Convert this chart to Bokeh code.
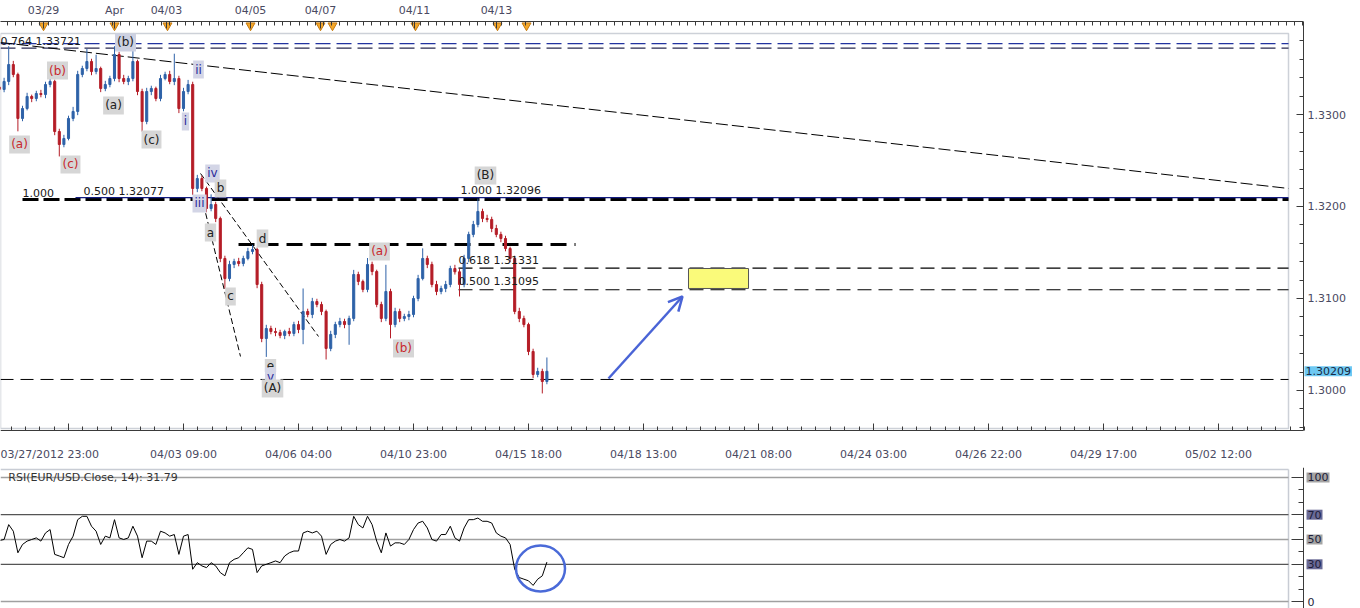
import numpy as np
from bokeh.plotting import figure
from bokeh.layouts import column
from bokeh.models import (ColumnDataSource, Range1d, LinearAxis, FixedTicker,
                          NumeralTickFormatter, Label, Arrow, OpenHead)
from bokeh.embed import file_html
from bokeh.resources import INLINE

FONT = "DejaVu Sans"

# ---------------- data ----------------
# x axis = bar slot index; bottom labels every 25 slots
bottom_tick_slots = [15, 40, 65, 90, 115, 140, 165, 190, 215, 240, 265]
bottom_tick_labels = ["03/27/2012 23:00", "04/03 09:00", "04/06 04:00", "04/10 23:00",
                      "04/15 18:00", "04/18 13:00", "04/21 08:00", "04/24 03:00",
                      "04/26 22:00", "04/29 17:00", "05/02 12:00"]
top_tick_slots = [9.57, 25.0, 36.30, 54.57, 69.78, 90.22, 108.04]
top_tick_labels = ["03/29", "Apr", "04/03", "04/05", "04/07", "04/11", "04/13"]
event_slots = [9.57, 25.0, 36.52, 54.57, 69.78, 72.39, 90.43, 108.26, 114.57]

first_open = 1.33300
close = [1.33272, 1.33359, 1.33543, 1.33435, 1.32957, 1.33065, 1.33196, 1.33174, 1.33228, 1.33217,
         1.33326, 1.33359, 1.32815, 1.32674, 1.32739, 1.32957, 1.33033, 1.33435, 1.33500, 1.33576,
         1.33467, 1.33500, 1.33283, 1.33326, 1.33391, 1.33652, 1.33391, 1.33359, 1.33391, 1.33576,
         1.33250, 1.32924, 1.33250, 1.33283, 1.33174, 1.33391, 1.33435, 1.33359, 1.33391, 1.33065,
         1.33250, 1.33326, 1.32196, 1.32304, 1.32196, 1.31978, 1.32022, 1.31870, 1.31435, 1.31217,
         1.31370, 1.31402, 1.31380, 1.31435, 1.31511, 1.31533, 1.31152, 1.30565, 1.30674, 1.30641,
         1.30630, 1.30598, 1.30641, 1.30620, 1.30717, 1.30663, 1.30859, 1.30826, 1.30967, 1.30935,
         1.30859, 1.30457, 1.30609, 1.30717, 1.30750, 1.30717, 1.30783, 1.31261, 1.31185, 1.31098,
         1.31370, 1.31293, 1.30935, 1.30783, 1.31076, 1.30717, 1.30859, 1.30783, 1.30804, 1.30826,
         1.31000, 1.31217, 1.31435, 1.31370, 1.31152, 1.31076, 1.31109, 1.31152, 1.31326, 1.31290,
         1.31152, 1.31435, 1.31696, 1.31804, 1.31946, 1.31870, 1.31859, 1.31761, 1.31696, 1.31652,
         1.31543, 1.31435, 1.30859, 1.30783, 1.30717, 1.30424, 1.30174, 1.30207, 1.30098, 1.30209]
# wick lengths in pips above / below the candle body
wick_up = [3, 4, 20, 4, 2, 3, 4, 2, 3, 4,
           3, 8, 2, 3, 4, 3, 5, 4, 3, 14,
           3, 15, 2, 4, 3, 9, 3, 4, 3, 14,
           2, 3, 4, 3, 2, 4, 3, 4, 27, 3,
           4, 5, 3, 4, 3, 2, 11, 3, 2, 3,
           4, 3, 4, 3, 4, 5, 2, 3, 4, 3,
           4, 3, 2, 4, 3, 4, 25, 3, 4, 3,
           3, 2, 4, 3, 4, 3, 3, 5, 3, 2,
           7, 3, 2, 3, 29, 3, 4, 3, 3, 4,
           3, 4, 11, 3, 3, 4, 3, 4, 3, 4,
           3, 4, 3, 4, 14, 3, 4, 3, 4, 3,
           3, 2, 3, 4, 3, 2, 3, 4, 3, 15]
wick_dn = [3, 3, 4, 3, 14, 3, 2, 4, 3, 3,
           4, 3, 4, 13, 3, 2, 3, 4, 3, 3,
           4, 3, 4, 3, 3, 3, 4, 3, 4, 3,
           4, 11, 3, 4, 3, 3, 2, 3, 4, 5,
           3, 3, 7, 4, 3, 4, 3, 4, 4, 11,
           3, 4, 3, 3, 2, 3, 4, 4, 20, 3,
           4, 3, 4, 3, 3, 4, 16, 3, 4, 3,
           4, 12, 3, 4, 3, 4, 22, 3, 4, 3,
           3, 4, 3, 4, 3, 15, 3, 4, 3, 4,
           3, 3, 2, 4, 3, 4, 3, 4, 3, 3,
           13, 3, 4, 3, 3, 4, 3, 4, 3, 4,
           3, 4, 3, 4, 3, 4, 4, 3, 13, 3]
rsi = [49.2, 50.0, 62.0, 56.7, 39.3, 46.0, 48.7, 50.0, 51.3, 48.7,
       55.3, 58.0, 38.0, 36.7, 35.3, 46.0, 52.7, 66.0, 68.7, 68.7,
       60.7, 56.7, 46.0, 52.7, 51.3, 66.0, 51.3, 50.0, 51.3, 60.7,
       52.7, 35.3, 48.7, 48.7, 46.0, 56.7, 55.3, 52.7, 54.0, 38.0,
       52.7, 54.0, 26.0, 31.3, 28.7, 27.3, 31.3, 28.7, 23.3, 20.7,
       31.3, 34.0, 35.3, 39.3, 43.3, 42.0, 23.3, 28.7, 30.0, 31.3,
       32.7, 31.3, 36.7, 39.3, 40.7, 40.7, 55.3, 56.7, 55.3, 56.7,
       52.7, 38.0, 46.0, 48.7, 50.0, 48.7, 51.3, 68.7, 62.0, 59.3,
       68.7, 62.0, 48.7, 39.3, 55.3, 44.7, 47.3, 47.3, 46.0, 50.0,
       58.0, 63.3, 64.7, 59.3, 50.0, 48.7, 54.0, 54.0, 60.7, 51.3,
       48.7, 59.3, 66.0, 66.0, 67.3, 64.7, 64.7, 63.3, 55.3, 52.7,
       51.3, 46.0, 26.0, 19.3, 18.0, 16.7, 13.0, 18.0, 20.7, 31.79]
last_price = 1.30209
rsi_last = 31.79

# Fibonacci / support levels text
fib_text = ["0.764 1.33721", "1.000", "0.500 1.32077", "1.000 1.32096",
            "0.618 1.31331", "0.500 1.31095"]
fib_x = [0.22, 5.0, 18.26, 100.22, 99.78, 99.78]
fib_y = [1.33793, 1.32152, 1.32163, 1.32174, 1.31413, 1.31185]

# Elliott wave labels
wave_text = ["(b)", "(b)", "(a)", "(c)", "(a)", "(c)", "i", "ii", "iv", "b", "iii",
             "a", "c", "d", "e", "v", "(A)", "(a)", "(b)", "(B)"]
wave_x = [27.39, 12.61, 4.35, 15.43, 24.78, 33.04, 40.43, 43.26, 46.30, 48.04, 43.48,
          45.87, 50.22, 57.17, 58.91, 58.91, 59.35, 82.61, 87.83, 105.65]
wave_y = [1.33783, 1.33478, 1.32674, 1.32457, 1.33098, 1.32728, 1.32924, 1.33489, 1.32359,
          1.32196, 1.32033, 1.31717, 1.31022, 1.31652, 1.30272, 1.30152, 1.30022,
          1.31511, 1.30457, 1.32337]
wave_kind = ["k2", "r", "r", "r", "k", "k", "b", "b", "b", "k", "b",
             "k", "k", "k", "k", "b", "k", "r", "r", "k"]

# ---------------- styles / geometry ----------------
RED, BLUE = "#b51d27", "#2e62a8"
kind_color = {"r": "#c8282d", "k": "#222222", "k2": "#222222", "b": "#2a2a9a"}
kind_bg = {"r": "#d6d6d6", "k": "#d6d6d6", "k2": "#cdd1e2", "b": "#d3d5e6"}

X0, X1 = 0.217, 295.87      # frame spans the full canvas width
X_AX = 283.48               # right axis position
L_END = 280.22              # end of drawn lines (inner box edge)
P_TOP, P_BOT = 1.340109, 1.291630
P_AX_BOT = 1.295652         # bottom axis position

slots = list(range(len(close)))
opens = [first_open] + close[:-1]
highs = [max(o, c) + u * 1e-4 for o, c, u in zip(opens, close, wick_up)]
lows = [min(o, c) - d * 1e-4 for o, c, d in zip(opens, close, wick_dn)]
colors = [BLUE if c >= o else RED for o, c in zip(opens, close)]
src = ColumnDataSource(dict(x=slots, o=opens, c=close, h=highs, l=lows, col=colors))

# ---------------- price panel ----------------
p = figure(frame_width=1360, frame_height=446, x_range=Range1d(X0, X1),
           y_range=Range1d(P_BOT, P_TOP), output_backend="svg", toolbar_location=None,
           x_axis_location=None, y_axis_location=None,
           min_border_left=0, min_border_right=0, min_border_top=20, min_border_bottom=0)
p.outline_line_color = None
p.grid.grid_line_color = None
p.background_fill_color = "white"

minor_b = [15 + k * 3.125 for k in range(-4, 87)]
xb = LinearAxis(ticker=FixedTicker(ticks=bottom_tick_slots, minor_ticks=minor_b),
                major_label_overrides={t: (lab if i > 0 else "") for i, (t, lab) in
                                       enumerate(zip(bottom_tick_slots, bottom_tick_labels))},
                fixed_location=P_AX_BOT, bounds=(X0, X_AX))
xt = LinearAxis(ticker=FixedTicker(ticks=top_tick_slots,
                                   minor_ticks=[k * 1.76 for k in range(0, 162)]),
                major_label_overrides=dict(zip(top_tick_slots, top_tick_labels)),
                bounds=(X0, X_AX))
yr = LinearAxis(ticker=FixedTicker(ticks=[1.30, 1.31, 1.32, 1.33],
                                   minor_ticks=[1.296 + k * 0.002 for k in range(22)]),
                formatter=NumeralTickFormatter(format="0.0000"),
                fixed_location=X_AX, bounds=(P_AX_BOT, P_TOP))
for ax in (xb, xt, yr):
    ax.axis_line_color = "#3a3a3a"
    ax.major_tick_line_color = "#3a3a3a"
    ax.minor_tick_line_color = "#3a3a3a"
    ax.major_tick_in, ax.major_tick_out = 7, 0
    ax.minor_tick_in, ax.minor_tick_out = 4, 0
    ax.major_label_text_font = FONT
    ax.major_label_text_font_size = "11px"
    ax.major_label_text_color = "#4a4a62"
xb.major_label_standoff = 18
xt.major_label_standoff = 5
yr.major_label_standoff = 4
p.add_layout(xb, "below")
p.add_layout(xt, "above")
p.add_layout(yr, "right")

# inner gray frame
p.quad(left=[0.22], right=[L_END], top=[1.33880], bottom=[1.29587],
       fill_alpha=0, line_color="#cdd1d8", line_width=1.5)

# horizontal levels
def hline(y, x0, x1, color="black", width=1.0, dash="14 6"):
    p.segment(x0=[x0], y0=[y], x1=[x1], y1=[y], line_color=color, line_width=width, line_dash=dash)

hline(1.33770, 0.22, L_END, "#2233a0", 1.2, "15 6")
hline(1.33721, 0.22, L_END, "#2a2a50", 1.2, "15 6")
hline(1.32077, 5.0, L_END, "black", 3.0, "16 5")
hline(1.32096, 16.52, L_END, "#141c80", 1.4, "solid")
hline(1.31587, 51.96, 125.22, "black", 3.0, "16 8")
hline(1.31331, 99.78, L_END, "black", 1.2, "14 7")
hline(1.31095, 99.78, L_END, "black", 1.2, "14 7")
hline(1.30120, 0.22, L_END, "black", 1.0, "13 7")

# trend line and fan lines
p.segment(x0=[0.22], y0=[1.33783], x1=[L_END], y1=[1.32196], line_color="black",
          line_width=1, line_dash="12 4")
p.segment(x0=[44.35, 43.70], y0=[1.32022, 1.32359], x1=[52.39, 69.35], y1=[1.30370, 1.30587],
          line_color="black", line_width=1, line_dash="6 3")

# candles
p.segment(x0="x", y0="l", x1="x", y1="h", line_color="col", line_width=1, source=src)
p.vbar(x="x", width=0.45, top="o", bottom="c", fill_color="col", line_color="col", source=src)

# target zone
p.quad(left=[149.78], right=[162.83], top=[1.31326], bottom=[1.31109],
       fill_color="#fafa7a", line_color="#555555", line_width=1)

# arrow
p.add_layout(Arrow(end=OpenHead(size=14, line_color="#4a64d6", line_width=2.5),
                   x_start=132.39, y_start=1.30130, x_end=148.48, y_end=1.31022,
                   line_color="#4a64d6", line_width=2.5))

# event markers along top
p.scatter(x=event_slots, y=[1.33967] * len(event_slots), marker="inverted_triangle",
          size=9, fill_color="#f4a72a", line_color="#c47a12")

# fib texts
for t, x, y in zip(fib_text, fib_x, fib_y):
    p.add_layout(Label(x=x, y=y, text=t, text_align="left", text_baseline="middle",
                       text_font=FONT, text_font_size="11px", text_color="#1a1a1a"))

# wave labels
for t, x, y, k in zip(wave_text, wave_x, wave_y, wave_kind):
    p.add_layout(Label(x=x, y=y, text=t, text_align="center", text_baseline="middle",
                       text_font=FONT, text_font_size="12px", text_color=kind_color[k],
                       background_fill_color=kind_bg[k], padding=2))

# first bottom label (left aligned) and last price tag
p.add_layout(Label(x=X0, y=1.29304, text=bottom_tick_labels[0], text_align="left",
                   text_baseline="middle", text_font=FONT, text_font_size="11px",
                   text_color="#4a4a62"))
p.add_layout(Label(x=X_AX, y=last_price, x_offset=1, text=f"{last_price:.5f}",
                   text_align="left", text_baseline="middle", text_font=FONT,
                   text_font_size="11px", text_color="#1a2a44",
                   background_fill_color="#6ec8f2", padding=1))

# ---------------- RSI panel ----------------
r = figure(frame_width=1360, frame_height=142, x_range=p.x_range, y_range=Range1d(-6.45, 108.06),
           output_backend="svg", toolbar_location=None, x_axis_location=None,
           y_axis_location=None, min_border_left=0, min_border_right=0,
           min_border_top=0, min_border_bottom=0)
r.outline_line_color = None
r.grid.grid_line_color = None
rsi_levels = [0, 30, 50, 70, 100]
ry = LinearAxis(ticker=FixedTicker(ticks=rsi_levels, minor_ticks=[10, 20, 40, 60, 80, 90]),
                major_label_overrides={v: "" for v in rsi_levels},
                fixed_location=X_AX, bounds=(-5.5, 108.06))
ry.axis_line_color = "#3a3a3a"
ry.major_tick_line_color = "#3a3a3a"
ry.minor_tick_line_color = "#3a3a3a"
ry.major_tick_in, ry.major_tick_out = 12, 0
ry.minor_tick_in, ry.minor_tick_out = 5, 0
r.add_layout(ry, "right")

r.segment(x0=[0.22], y0=[106.4], x1=[L_END], y1=[106.4], line_color="#c8ccd4", line_width=1.5)
r.segment(x0=[L_END], y0=[-5.5], x1=[L_END], y1=[106.4], line_color="#c8ccd4", line_width=1.5)
lvl_col = {0: "#a0a0a0", 30: "#555555", 50: "#a0a0a0", 70: "#555555", 100: "#a0a0a0"}
for v in rsi_levels:
    r.segment(x0=[0.22], y0=[v], x1=[L_END], y1=[v], line_color=lvl_col[v], line_width=1.3)

r.line(x=slots, y=rsi, line_color="black", line_width=1)
r.ellipse(x=[117.61], y=[26.6], width=[10.65], height=[37], fill_color=None,
          line_color="#4a6ad8", line_width=2.5)

r.add_layout(Label(x=X0 + 1.7, y=100, text=f"RSI(EUR/USD.Close, 14): {rsi_last:.2f}",
                   text_align="left", text_baseline="middle", text_font=FONT,
                   text_font_size="11px", text_color="#333333"))
tag_bg = {100: "#a4a4a4", 70: "#6a6a96", 50: "#a4a4a4", 30: "#6a6a96", 0: None}
for v in rsi_levels:
    r.add_layout(Label(x=X_AX, y=v, x_offset=3, text=str(v), text_align="left",
                       text_baseline="middle", text_font=FONT, text_font_size="11px",
                       text_color="#1e1e3a", background_fill_color=tag_bg[v], padding=1))

layout = column(p, r)
open("out.html", "w").write(file_html(layout, INLINE))
